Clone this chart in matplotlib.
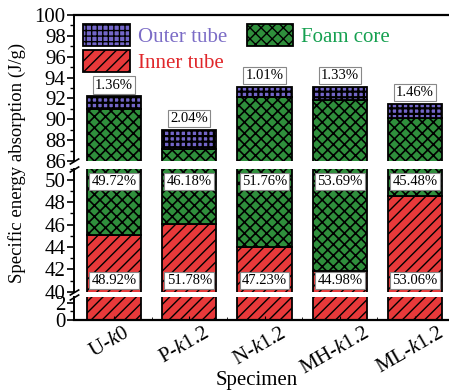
import numpy as np
import matplotlib
matplotlib.use("Agg")
import matplotlib.pyplot as plt
import matplotlib.transforms as mtransforms
from matplotlib.patches import Patch
from matplotlib.ticker import MultipleLocator

plt.rcParams['font.family'] = ['Liberation Serif', 'DejaVu Serif']
plt.rcParams['mathtext.fontset'] = 'custom'
plt.rcParams['mathtext.rm'] = 'Liberation Serif'
plt.rcParams['mathtext.it'] = 'Liberation Serif:italic'

# data
specimens = ['U-$k$0', 'P-$k$1.2', 'N-$k$1.2', 'MH-$k$1.2', 'ML-$k$1.2']
total_sea = [92.2, 89.0, 93.1, 93.1, 91.5]          # J/g
inner_pct = [48.92, 51.78, 47.23, 44.98, 53.06]
foam_pct = [49.72, 46.18, 51.76, 53.69, 45.48]
outer_pct = [1.36, 2.04, 1.01, 1.33, 1.46]

total = np.array(total_sea)
inner = total * np.array(inner_pct) / 100
foam = total * np.array(foam_pct) / 100
outer = total * np.array(outer_pct) / 100
x = np.arange(1, len(specimens) + 1)

RED = '#e8393a'
GREEN = '#2f8f3c'
PURPLE = '#7366c9'
BAR_W = 0.72
HATCH = {'inner': ('///', 1.0), 'foam': ('xxx', 1.2), 'outer': ('+++', 1.6)}

fig = plt.figure(figsize=(4.49, 3.91), dpi=100)
L, W = 74 / 449, 1 - 74 / 449
ax_top = fig.add_axes([L, 1 - 161 / 391, W, 146 / 391])
ax_mid = fig.add_axes([L, 1 - 291.7 / 391, W, 123.2 / 391], sharex=ax_top)
ax_bot = fig.add_axes([L, 1 - 320 / 391, W, 23 / 391], sharex=ax_top)
axes = [ax_top, ax_mid, ax_bot]


def draw_bars(ax):
    with plt.rc_context({'hatch.linewidth': HATCH['inner'][1]}):
        ax.bar(x, inner, BAR_W, color=RED, edgecolor='k',
               hatch=HATCH['inner'][0], lw=1.3)
    with plt.rc_context({'hatch.linewidth': HATCH['foam'][1]}):
        ax.bar(x, foam, BAR_W, bottom=inner, color=GREEN, edgecolor='k',
               hatch=HATCH['foam'][0], lw=1.3)
    with plt.rc_context({'hatch.linewidth': HATCH['outer'][1]}):
        ax.bar(x, outer, BAR_W, bottom=inner + foam, color=PURPLE,
               edgecolor='k', hatch=HATCH['outer'][0], lw=1.3)


for ax in axes:
    draw_bars(ax)
    for s in ['top', 'bottom', 'right']:
        ax.spines[s].set_visible(False)
    ax.spines['left'].set_linewidth(1.4)
    ax.tick_params(axis='y', which='major', direction='out', length=5,
                   width=1.2, labelsize=15, pad=1)
    ax.tick_params(axis='y', which='minor', direction='out', length=3,
                   width=1.0)
    ax.yaxis.set_minor_locator(MultipleLocator(1))
    ax.yaxis.set_major_locator(MultipleLocator(2))

ax_top.set_ylim(86, 100)
ax_mid.set_ylim(40, 51)
ax_bot.set_ylim(0, 2.7)
ax_top.spines['top'].set_visible(True)
ax_top.spines['top'].set_linewidth(1.6)
ax_bot.spines['bottom'].set_visible(True)
ax_bot.spines['bottom'].set_linewidth(1.6)

ax_top.set_xlim(0.47, 5.45)
for ax in [ax_top, ax_mid]:
    ax.tick_params(axis='x', which='both', bottom=False, labelbottom=False)
ax_bot.set_xticks(x)
ax_bot.set_xticks(x[:-1] + 0.5, minor=True)
ax_bot.set_xticklabels(specimens, rotation=30, ha='center', fontsize=15)
ax_bot.tick_params(axis='x', which='major', direction='in', length=3, pad=3)
ax_bot.tick_params(axis='x', which='minor', direction='in', length=2)
shift = mtransforms.ScaledTranslation(-5 / 100, 0, fig.dpi_scale_trans)
for lab in ax_bot.get_xticklabels():
    lab.set_transform(lab.get_transform() + shift)

fig.text(257 / 449, 1 - 381 / 391, 'Specimen', fontsize=15,
         ha='center', va='center')
fig.text(17 / 449, 1 - 163 / 391, 'Specific energy absorption (J/g)',
         rotation=90, fontsize=13.5, ha='center', va='center')

# percentage labels
box = dict(boxstyle='square,pad=0.15', fc='white', ec='#888888', lw=0.8)
for i in range(len(x)):
    ax_top.text(x[i], total[i] + 0.45, f'{outer_pct[i]:.2f}%', ha='center',
                va='bottom', fontsize=10.5, bbox=box)
    ax_mid.text(x[i], 49.85, f'{foam_pct[i]:.2f}%', ha='center',
                va='center', fontsize=10.5, bbox=box)
    ax_mid.text(x[i], 41.0, f'{inner_pct[i]:.2f}%', ha='center',
                va='center', fontsize=10.5, bbox=box)

# break marks on the left spine
kw = dict(marker=[(-1, -0.6), (1, 0.6)], markersize=7, linestyle='none',
          color='k', mec='k', mew=1.2, clip_on=False)
ax_top.plot([0], [0], transform=ax_top.transAxes, **kw)
ax_mid.plot([0, 0], [0, 1], transform=ax_mid.transAxes, **kw)
ax_bot.plot([0], [1], transform=ax_bot.transAxes, **kw)

# legend
with plt.rc_context({'hatch.linewidth': HATCH['outer'][1]}):
    h_outer = Patch(fc=PURPLE, ec='k', hatch=HATCH['outer'][0], lw=1.3)
with plt.rc_context({'hatch.linewidth': HATCH['inner'][1]}):
    h_inner = Patch(fc=RED, ec='k', hatch=HATCH['inner'][0], lw=1.3)
with plt.rc_context({'hatch.linewidth': HATCH['foam'][1]}):
    h_foam = Patch(fc=GREEN, ec='k', hatch=HATCH['foam'][0], lw=1.3)
leg = ax_top.legend([h_outer, h_inner, h_foam],
                    ['Outer tube', 'Inner tube', 'Foam core'],
                    ncol=2, frameon=False, fontsize=15,
                    loc='upper left', bbox_to_anchor=(0.0, 1.0),
                    handlelength=2.25, handleheight=1.24, handletextpad=0.35,
                    labelspacing=0.15, columnspacing=0.95, borderpad=0.25,
                    borderaxespad=0.2)
for t, c in zip(leg.get_texts(), ['#7b6cc6', '#e0262a', '#15a050']):
    t.set_color(c)

fig.savefig('out.png', dpi=100)
